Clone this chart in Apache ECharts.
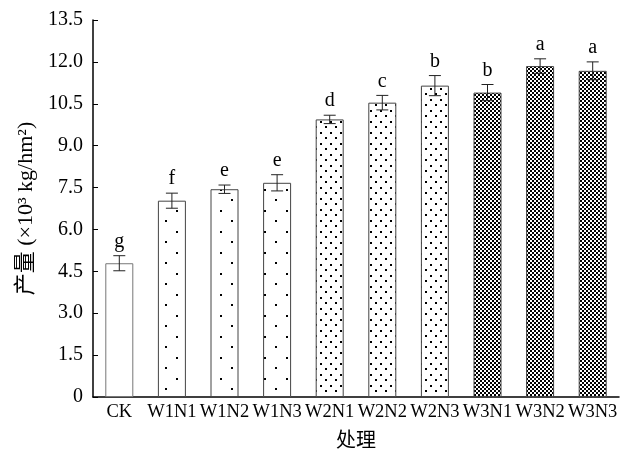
<!DOCTYPE html>
<html>
<head>
<meta charset="utf-8">
<script src="https://cdn.jsdelivr.net/npm/echarts@6/dist/echarts.min.js"></script>
<style>
  html, body { margin: 0; padding: 0; background: #fff; }
  #chart { width: 621px; height: 450px; }
</style>
</head>
<body>
<div id="chart"></div>
<script>
// Treatments, mean yield (×10³ kg/hm²), standard error and significance letters
const categories = ['CK', 'W1N1', 'W1N2', 'W1N3', 'W2N1', 'W2N2', 'W2N3', 'W3N1', 'W3N2', 'W3N3'];
const yields = [4.79, 7.03, 7.44, 7.67, 9.94, 10.54, 11.15, 10.90, 11.85, 11.68];
const errors = [0.27, 0.27, 0.15, 0.29, 0.15, 0.26, 0.36, 0.29, 0.26, 0.32];
const letters = ['g', 'f', 'e', 'e', 'd', 'c', 'b', 'b', 'a', 'a'];
// Irrigation level of each treatment selects its fill pattern
const fillGroups = ['none', 'W1', 'W1', 'W1', 'W2', 'W2', 'W2', 'W3', 'W3', 'W3'];
const yTicks = [0, 1.5, 3.0, 4.5, 6.0, 7.5, 9.0, 10.5, 12.0, 13.5];

const SERIF = '"Liberation Serif", "Times New Roman", "Noto Sans CJK SC", serif';

function makeTile(w, h, draw) {
  const c = document.createElement('canvas');
  c.width = w; c.height = h;
  const ctx = c.getContext('2d');
  ctx.fillStyle = '#fff';
  ctx.fillRect(0, 0, w, h);
  ctx.fillStyle = '#000';
  draw(ctx);
  return c;
}

const patterns = {
  none: '#ffffff',
  W1: { image: makeTile(22, 21, ctx => { ctx.fillRect(0, 0, 2, 2); ctx.fillRect(11, 10, 2, 2); }), repeat: 'repeat' },
  W2: { image: makeTile(10, 11, ctx => { ctx.fillRect(0, 0, 2, 2); ctx.fillRect(5, 5, 2, 2); }), repeat: 'repeat' },
  W3: { image: makeTile(4, 4, ctx => { ctx.fillRect(0, 0, 2, 2); ctx.fillRect(2, 2, 2, 2); }), repeat: 'repeat' }
};

const barData = yields.map((v, i) => ({
  value: v,
  itemStyle: {
    color: patterns[fillGroups[i]],
    borderColor: i === 0 ? '#777' : '#444',
    borderWidth: 1
  }
}));

const errData = yields.map((v, i) => [i, v, errors[i], letters[i]]);

const chart = echarts.init(document.getElementById('chart'), null, { renderer: 'canvas' });

chart.setOption({
  animation: false,
  backgroundColor: '#fff',
  grid: { left: 93, right: 2, top: 20, bottom: 53, containLabel: false, outerBoundsMode: 'none' },
  xAxis: {
    type: 'category',
    data: categories,
    name: '处理',
    nameLocation: 'middle',
    nameGap: 35,
    nameTextStyle: { fontFamily: SERIF, fontSize: 20, color: '#000' },
    axisLine: { lineStyle: { color: '#000', width: 1.5 } },
    axisTick: { show: true, alignWithLabel: true, inside: true, length: 4, lineStyle: { color: '#000' } },
    axisLabel: { fontFamily: SERIF, fontSize: 18.5, color: '#000', margin: 6, interval: 0 }
  },
  yAxis: {
    type: 'value',
    min: 0,
    max: 13.5,
    interval: 1.5,
    name: '产量 (×10³ kg/hm²)',
    nameLocation: 'middle',
    nameRotate: 90,
    nameGap: 55,
    nameTextStyle: { fontFamily: SERIF, fontSize: 22, color: '#000' },
    axisLine: { show: true, lineStyle: { color: '#000', width: 1.5 } },
    axisTick: { show: true, inside: true, length: 5, lineStyle: { color: '#000' } },
    splitLine: { show: false },
    axisLabel: {
      fontFamily: SERIF, fontSize: 20, color: '#000', margin: 10,
      formatter: v => {
        const t = yTicks.find(x => Math.abs(x - v) < 1e-6);
        return t === 0 ? '0' : (t !== undefined ? t.toFixed(1) : '');
      }
    }
  },
  series: [
    {
      type: 'bar',
      data: barData,
      barWidth: 28,
      z: 2
    },
    {
      type: 'custom',
      data: errData,
      z: 3,
      renderItem: (params, api) => {
        const i = api.value(0);
        const m = api.value(1);
        const e = api.value(2);
        const top = api.coord([i, m + e]);
        const bot = api.coord([i, m - e]);
        const half = 6;
        const style = { stroke: '#222', lineWidth: 1 };
        return {
          type: 'group',
          children: [
            { type: 'line', shape: { x1: top[0], y1: top[1], x2: bot[0], y2: bot[1] }, style },
            { type: 'line', shape: { x1: top[0] - half, y1: top[1], x2: top[0] + half, y2: top[1] }, style },
            { type: 'line', shape: { x1: bot[0] - half, y1: bot[1], x2: bot[0] + half, y2: bot[1] }, style },
            {
              type: 'text',
              style: {
                text: letters[params.dataIndex],
                x: top[0], y: top[1] - 4,
                align: 'center', verticalAlign: 'bottom',
                font: '20px ' + SERIF,
                fill: '#000'
              }
            }
          ]
        };
      }
    }
  ]
});
</script>
</body>
</html>
